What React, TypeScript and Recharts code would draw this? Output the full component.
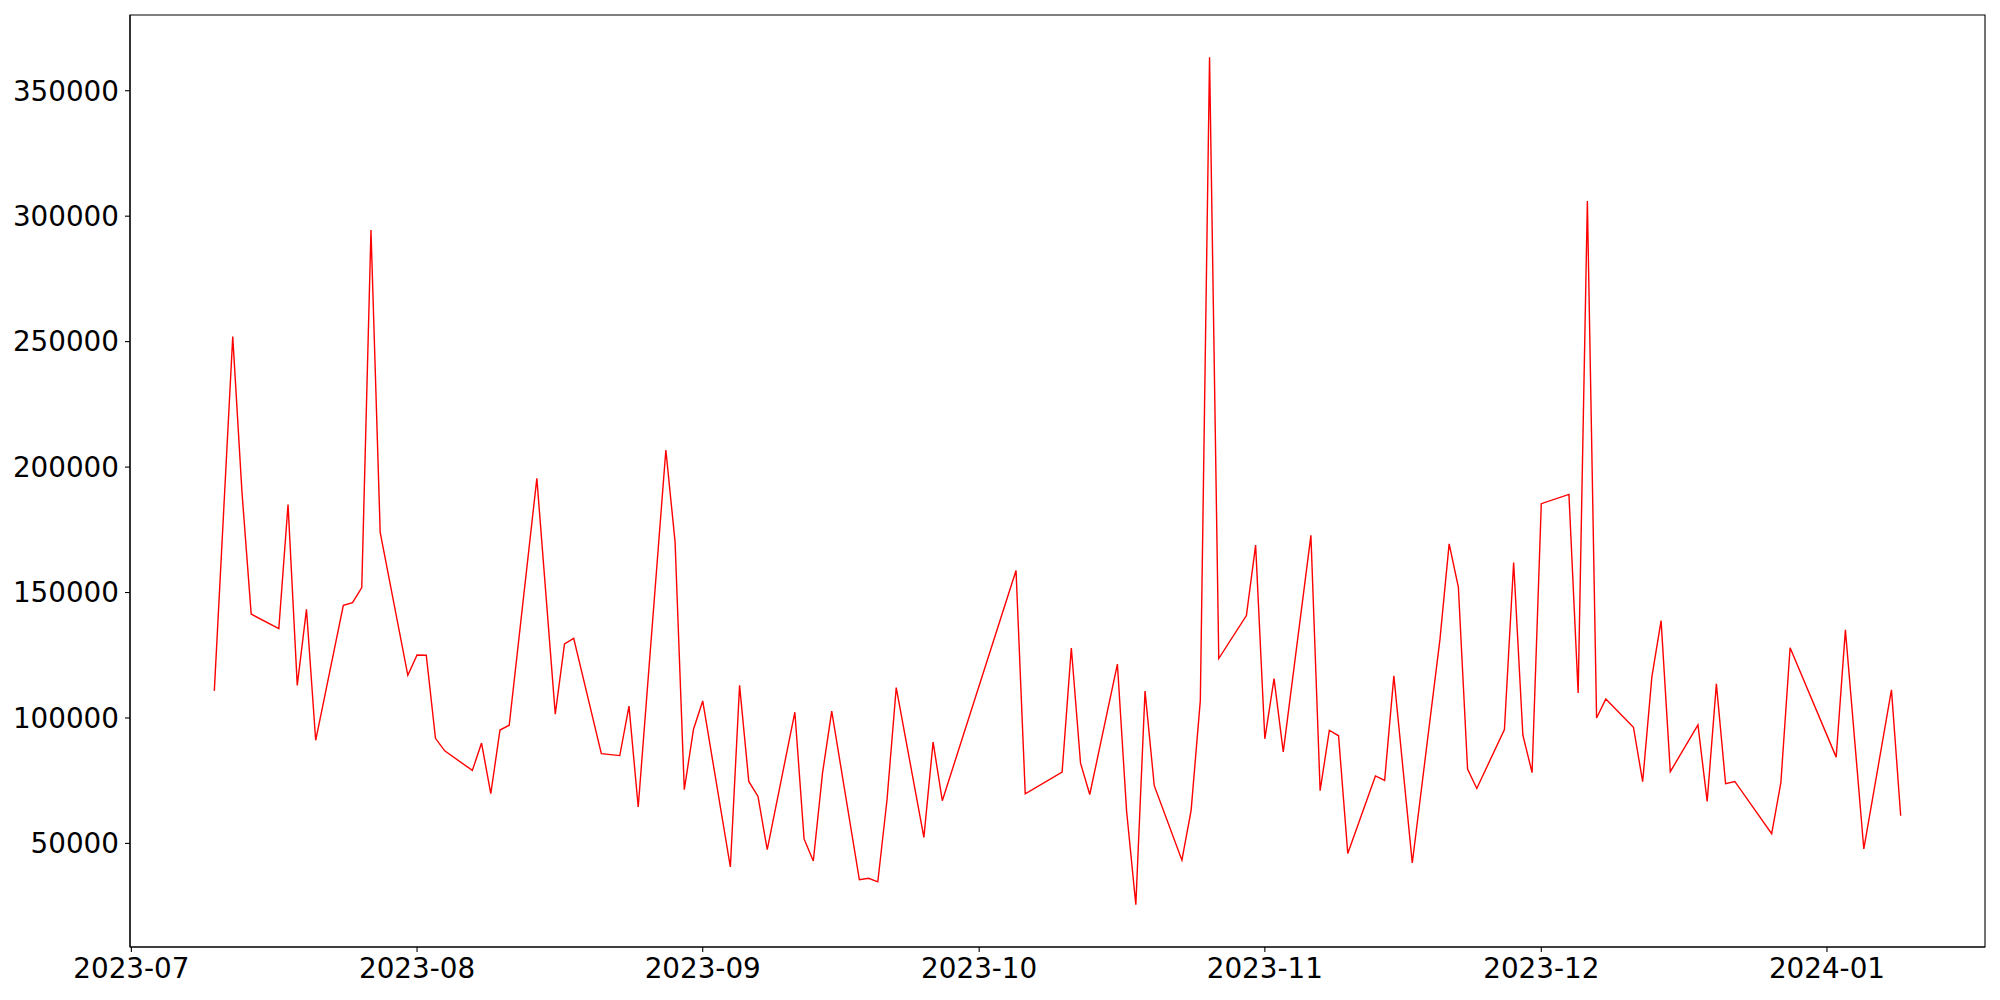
import { LineChart, Line, XAxis, YAxis, ReferenceArea } from "recharts";

const dates = [
  "2023-07-10", "2023-07-12", "2023-07-13", "2023-07-14", "2023-07-17", "2023-07-18",
  "2023-07-19", "2023-07-20", "2023-07-21", "2023-07-24", "2023-07-25", "2023-07-26",
  "2023-07-27", "2023-07-28", "2023-07-31", "2023-08-01", "2023-08-02", "2023-08-03",
  "2023-08-04", "2023-08-07", "2023-08-08", "2023-08-09", "2023-08-10", "2023-08-11",
  "2023-08-14", "2023-08-16", "2023-08-17", "2023-08-18", "2023-08-21", "2023-08-23",
  "2023-08-24", "2023-08-25", "2023-08-28", "2023-08-29", "2023-08-30", "2023-08-31",
  "2023-09-01", "2023-09-04", "2023-09-05", "2023-09-06", "2023-09-07", "2023-09-08",
  "2023-09-11", "2023-09-12", "2023-09-13", "2023-09-14", "2023-09-15", "2023-09-18",
  "2023-09-19", "2023-09-20", "2023-09-21", "2023-09-22", "2023-09-25", "2023-09-26",
  "2023-09-27", "2023-10-05", "2023-10-06", "2023-10-10", "2023-10-11", "2023-10-12",
  "2023-10-13", "2023-10-16", "2023-10-17", "2023-10-18", "2023-10-19", "2023-10-20",
  "2023-10-23", "2023-10-24", "2023-10-25", "2023-10-26", "2023-10-27", "2023-10-30",
  "2023-10-31", "2023-11-01", "2023-11-02", "2023-11-03", "2023-11-06", "2023-11-07",
  "2023-11-08", "2023-11-09", "2023-11-10", "2023-11-13", "2023-11-14", "2023-11-15",
  "2023-11-17", "2023-11-20", "2023-11-21", "2023-11-22", "2023-11-23", "2023-11-24",
  "2023-11-27", "2023-11-28", "2023-11-29", "2023-11-30", "2023-12-01", "2023-12-04",
  "2023-12-05", "2023-12-06", "2023-12-07", "2023-12-08", "2023-12-11", "2023-12-12",
  "2023-12-13", "2023-12-14", "2023-12-15", "2023-12-18", "2023-12-19", "2023-12-20",
  "2023-12-21", "2023-12-22", "2023-12-26", "2023-12-27", "2023-12-28", "2024-01-02",
  "2024-01-03", "2024-01-05", "2024-01-08", "2024-01-09",
];

const values = [
  110800, 252000, 190100, 141400, 135600, 185100,
  113000, 143300, 91100, 144900, 146000, 152000,
  294500, 174000, 117000, 125100, 125000, 91900,
  86900, 79100, 90000, 69800, 95200, 97100,
  195500, 101500, 129500, 131700, 85800, 85000,
  104700, 64500, 206800, 170200, 71400, 95500,
  106800, 40600, 113000, 74700, 68700, 47500,
  102300, 51800, 43000, 78000, 102700, 35500,
  36100, 34700, 67400, 112100, 52400, 90400,
  67000, 158800, 69800, 78400, 127900, 82000,
  69500, 121500, 62800, 25600, 110700, 73000,
  43300, 63200, 107000, 363300, 123700, 140800,
  168900, 91700, 115700, 86500, 172800, 71000,
  95100, 92900, 46000, 76900, 75100, 116800,
  42200, 131200, 169400, 152200, 79600, 71900,
  95400, 162000, 93200, 78200, 185400, 189100,
  110000, 306000, 100000, 107600, 96300, 74600,
  116400, 138800, 78600, 97200, 66700, 113600,
  73800, 74700, 53900, 74300, 128000, 84400,
  135100, 47800, 111200, 61000,
];

const monthTicks = [
  "2023-07-01", "2023-08-01", "2023-09-01", "2023-10-01",
  "2023-11-01", "2023-12-01", "2024-01-01",
];

const yTicks = [50000, 100000, 150000, 200000, 250000, 300000, 350000];

const toTime = (d: string) => Date.parse(d + "T00:00:00Z");

const data = dates.map((d, i) => ({ t: toTime(d), v: values[i] }));

// matplotlib-style 5% margins
const tMin = Math.min(...data.map((p) => p.t));
const tMax = Math.max(...data.map((p) => p.t));
const vMin = Math.min(...values);
const vMax = Math.max(...values);
const xDomain = [tMin - (tMax - tMin) * 0.05, tMax + (tMax - tMin) * 0.05];
const yDomain = [vMin - (vMax - vMin) * 0.05, vMax + (vMax - vMin) * 0.05];

const fmtMonth = (t: number) => {
  const d = new Date(t);
  return `${d.getUTCFullYear()}-${String(d.getUTCMonth() + 1).padStart(2, "0")}`;
};

const tickStyle = { fontSize: 27.8, fill: "#000", fontFamily: "DejaVu Sans" };
const axisLine = { stroke: "#000", strokeWidth: 1.1 };

export default function App() {
  return (
    <div style={{ position: "absolute", left: 0, top: 0, background: "#fff" }}>
      <LineChart
        width={2000}
        height={1000}
        data={data}
        margin={{ top: 15, right: 15, left: 0, bottom: 0 }}
      >
        <XAxis
          dataKey="t"
          type="number"
          domain={xDomain}
          ticks={monthTicks.map(toTime)}
          tickFormatter={fmtMonth}
          interval={0}
          height={53}
          tick={tickStyle}
          tickSize={5}
          tickMargin={6}
          axisLine={axisLine}
          tickLine={axisLine}
        />
        <YAxis
          type="number"
          domain={yDomain}
          ticks={yTicks}
          interval={0}
          width={130}
          tick={tickStyle}
          tickSize={5}
          tickMargin={6}
          axisLine={axisLine}
          tickLine={axisLine}
        />
        {/* frame around the plot area, like matplotlib spines */}
        <ReferenceArea
          x1={xDomain[0]}
          x2={xDomain[1]}
          y1={yDomain[0]}
          y2={yDomain[1]}
          fill="none"
          fillOpacity={0}
          stroke="#000"
          strokeWidth={1.1}
          ifOverflow="visible"
        />
        <Line
          type="linear"
          dataKey="v"
          stroke="#ff0000"
          strokeWidth={1.4}
          dot={false}
          isAnimationActive={false}
        />
      </LineChart>
    </div>
  );
}
